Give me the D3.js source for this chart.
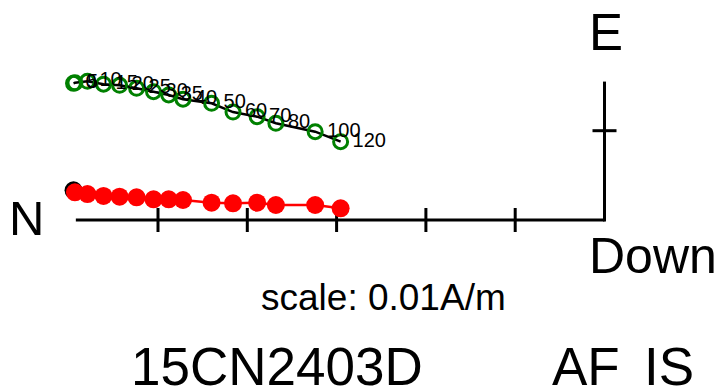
<!DOCTYPE html>
<html>
<head>
<meta charset="utf-8">
<script src="https://cdn.jsdelivr.net/npm/d3@7"></script>
<style>
html,body{margin:0;padding:0;background:#fff;}
svg{display:block;}
text{font-family:"Liberation Sans", Arial, Helvetica, sans-serif;fill:#000;}
</style>
</head>
<body>
<svg id="chart" width="727" height="392"></svg>
<script>
// AF demagnetization steps (mT)
const steps = ["0","5","10","15","20","25","30","35","40","50","60","70","80","100","120"];
// North component (units of 0.01 A/m)
const northVals = [5.946, 5.93, 5.79, 5.61, 5.43, 5.24, 5.05, 4.88, 4.72, 4.40, 4.16, 3.89, 3.68, 3.24, 2.955];
// East component (horizontal projection)
const eastVals  = [1.53, 1.536, 1.553, 1.521, 1.508, 1.475, 1.437, 1.400, 1.353, 1.307, 1.209, 1.157, 1.083, 0.989, 0.877];
// Down component (vertical projection; negative = up)
const downVals  = [-0.333, -0.310, -0.291, -0.269, -0.261, -0.254, -0.232, -0.232, -0.224, -0.194, -0.187, -0.194, -0.168, -0.168, -0.131];
// axis extents and ticks (0.01 A/m)
const hAxisMax = 5.92;
const vAxisMax = 1.55;
const hTicks = [1, 2, 3, 4, 5];
const vTicks = [1];
const sampleName = "15CN2403D";
const scaleLabel = "scale: 0.01A/m";

const svg = d3.select("#chart");
const unit = 89.3;
const ox = 604.5, oy = 220;
const x = d3.scaleLinear().domain([0, 1]).range([ox, ox - unit]);
const y = d3.scaleLinear().domain([0, 1]).range([oy, oy - unit]);

// axes
svg.append("line").attr("x1", x(0)).attr("y1", y(0)).attr("x2", x(hAxisMax)).attr("y2", y(0))
  .attr("stroke", "#000").attr("stroke-width", 3);
svg.append("line").attr("x1", x(0)).attr("y1", y(0) + 1.5).attr("x2", x(0)).attr("y2", y(vAxisMax))
  .attr("stroke", "#000").attr("stroke-width", 3);
svg.selectAll(".ht").data(hTicks).enter().append("line")
  .attr("x1", d => x(d)).attr("x2", d => x(d)).attr("y1", oy - 12).attr("y2", oy + 12)
  .attr("stroke", "#000").attr("stroke-width", 3);
svg.selectAll(".vt").data(vTicks).enter().append("line")
  .attr("y1", d => y(d)).attr("y2", d => y(d)).attr("x1", ox - 12).attr("x2", ox + 12)
  .attr("stroke", "#000").attr("stroke-width", 3);

const idx = d3.range(steps.length);

// vertical projection (N vs Up)
svg.append("circle").attr("cx", x(northVals[0])).attr("cy", y(-downVals[0])).attr("r", 9).attr("fill", "#000");
const vIdx = idx.slice(1);
svg.append("path").datum(vIdx)
  .attr("d", d3.line().x(i => x(northVals[i])).y(i => y(-downVals[i])))
  .attr("fill", "none").attr("stroke", "red").attr("stroke-width", 2.5);
svg.selectAll(".red").data(vIdx).enter().append("circle")
  .attr("cx", i => x(northVals[i])).attr("cy", i => y(-downVals[i])).attr("r", 9).attr("fill", "red");

// horizontal projection (N vs E)
svg.append("path").datum(idx)
  .attr("d", d3.line().x(i => x(northVals[i])).y(i => y(eastVals[i])))
  .attr("fill", "none").attr("stroke", "#000").attr("stroke-width", 2.5);
svg.selectAll(".grn").data(idx).enter().append("circle")
  .attr("cx", i => x(northVals[i])).attr("cy", i => y(eastVals[i])).attr("r", 7)
  .attr("fill", "none").attr("stroke", "green").attr("stroke-width", 3);
svg.selectAll(".lbl").data(idx).enter().append("text")
  .attr("x", i => x(northVals[i]) + 12).attr("y", i => y(eastVals[i]) + 5)
  .attr("font-size", 20).text(i => steps[i]);

// axis labels
svg.append("text").attr("x", 9).attr("y", 235).attr("font-size", 49).text("N");
svg.append("text").attr("x", 589).attr("y", 50).attr("font-size", 51).text("E");
svg.append("text").attr("x", 589).attr("y", 273).attr("font-size", 50).text("Down");
svg.append("text").attr("x", 261).attr("y", 310).attr("font-size", 37).text(scaleLabel);
svg.append("text").attr("x", 131).attr("y", 385).attr("font-size", 53).text(sampleName);
svg.append("text").attr("x", 552).attr("y", 385).attr("font-size", 53).text("AF");
svg.append("text").attr("x", 644).attr("y", 385).attr("font-size", 53).text("IS");
</script>
</body>
</html>
